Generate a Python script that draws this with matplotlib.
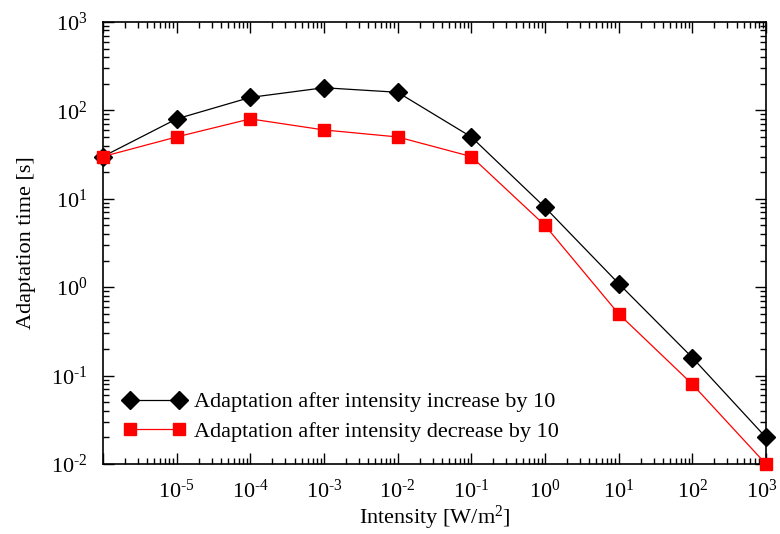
import math
import matplotlib
matplotlib.use("Agg")
import matplotlib.pyplot as plt
import matplotlib.transforms as mtransforms
from matplotlib.ticker import LogLocator, FuncFormatter, NullFormatter

plt.rcParams['font.family'] = ['Liberation Serif', 'DejaVu Serif']
plt.rcParams['mathtext.fontset'] = 'custom'
plt.rcParams['mathtext.rm'] = 'Liberation Serif'
plt.rcParams['mathtext.it'] = 'Liberation Serif:italic'

intensity = [1e-6, 1e-5, 1e-4, 1e-3, 1e-2, 1e-1, 1e0, 1e1, 1e2, 1e3]
increase = [30, 80, 140, 180, 160, 50, 8, 1.1, 0.16, 0.02]
decrease = [30, 50, 80, 60, 50, 30, 5, 0.5, 0.08, 0.01]

fig = plt.figure(figsize=(7.8, 5.34), dpi=100)
ax = fig.add_axes([0.132, 0.131, 0.850, 0.828])

ax.plot(intensity, increase, color='black', lw=0.9, marker='D', ms=9.5,
        label='Adaptation after intensity increase by 10', clip_on=False, zorder=3)
ax.plot(intensity, decrease, color='red', lw=0.9, marker='s', ms=8,
        label='Adaptation after intensity decrease by 10', clip_on=False, zorder=4)

ax.set_xscale('log')
ax.set_yscale('log')
ax.set_xlim(1e-6, 1e3)
ax.set_ylim(1e-2, 1e3)

def exp_label(v):
    e = int(round(math.log10(v)))
    s = str(abs(e))
    if e < 0:
        s = '\u2010' + s
    return r'$\mathregular{10^{%s}}$' % s

def fmt_x(v, pos):
    if int(round(math.log10(v))) == -6:
        return ''
    return exp_label(v)

def fmt_y(v, pos):
    return exp_label(v)

ax.xaxis.set_major_locator(LogLocator(base=10, numticks=20))
ax.yaxis.set_major_locator(LogLocator(base=10, numticks=20))
ax.xaxis.set_minor_locator(LogLocator(base=10, subs=range(2, 10), numticks=100))
ax.yaxis.set_minor_locator(LogLocator(base=10, subs=range(2, 10), numticks=100))
ax.xaxis.set_major_formatter(FuncFormatter(fmt_x))
ax.yaxis.set_major_formatter(FuncFormatter(fmt_y))
ax.xaxis.set_minor_formatter(NullFormatter())
ax.yaxis.set_minor_formatter(NullFormatter())

ax.tick_params(which='both', direction='in', top=True, right=True, labelsize=16)
ax.tick_params(which='major', length=8, width=1)
ax.tick_params(which='minor', length=4, width=1)
ax.tick_params(axis='x', pad=11)
ax.tick_params(axis='y', pad=11)
for s in ax.spines.values():
    s.set_linewidth(1.2)

ax.set_xlabel(r'Intensity [W/m$\mathregular{^2}$]', fontsize=16, labelpad=1)
ax.set_ylabel('Adaptation time [s]', fontsize=16, labelpad=11)

ax.legend(loc='lower left', bbox_to_anchor=(0.0, 0.005), frameon=False, numpoints=2,
          handlelength=2.8, fontsize=16, labelspacing=0.4, handletextpad=0.4,
          borderaxespad=0.5)

# keep the last x tick label inside the canvas
fig.canvas.draw()
for tick in ax.xaxis.get_major_ticks():
    if abs(tick.get_loc() - 1e3) < 1e-6:
        lab = tick.label1
        lab.set_transform(lab.get_transform() +
                          mtransforms.ScaledTranslation(-4 / 100, 0, fig.dpi_scale_trans))

fig.savefig('out.png', dpi=100)
